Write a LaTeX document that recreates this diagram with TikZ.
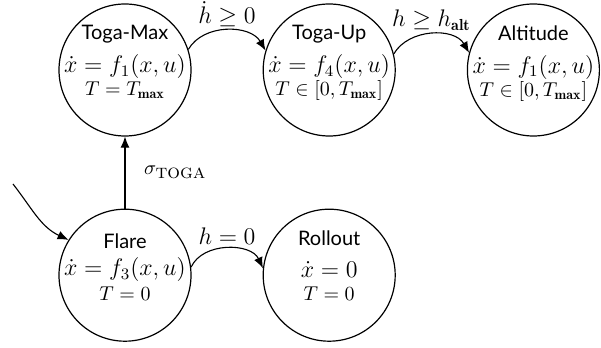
\documentclass[tikz,border=0pt]{standalone}
\usepackage{fontspec}
\newfontfamily\titlefont{Lato}
\usetikzlibrary{positioning,arrows.meta}

\begin{document}
\begin{tikzpicture}[
  state/.style={circle,draw,line width=0.6pt,minimum size=66pt,inner sep=0pt},
  statetext/.style={align=center,inner sep=0pt,anchor=north},
  arr/.style={-{Latex[length=5.5pt,width=4.5pt]},line width=0.55pt},
  guard/.style={inner sep=1.5pt,font=\large},
]
  \useasboundingbox (0,0) rectangle (300.5pt,174pt);
  % states
  \node[state] (togamax) at (62.5pt,139pt) {};
  \node[state,right=35.5pt of togamax] (togaup) {};
  \node[state,right=35.5pt of togaup] (altitude) {};
  \node[state,below=36pt of togamax] (flare) {};
  \node[state,right=35.5pt of flare] (rollout) {};
  % state contents
  \node[statetext] (togamaxtext) at ([yshift=22.5pt]togamax.center)
    {{\titlefont Toga-Max}\\[4.5pt] {\large $\dot x = f_1(x,u)$}\\[-0.5pt] $T = T_{\mathbf{max}}$};
  \node[statetext] (togauptext) at ([yshift=22.5pt]togaup.center)
    {{\titlefont Toga-Up}\\[4.5pt] {\large $\dot x = f_4(x,u)$}\\[-0.5pt] $T \in [0,T_{\mathbf{max}}]$};
  \node[statetext] (altitudetext) at ([yshift=22.5pt]altitude.center)
    {{\titlefont Altitude}\\[4.5pt] {\large $\dot x = f_1(x,u)$}\\[-0.5pt] $T \in [0,T_{\mathbf{max}}]$};
  \node[statetext] (flaretext) at ([yshift=20.7pt]flare.center)
    {{\titlefont Flare}\\[1.5pt] {\large $\dot x = f_3(x,u)$}\\[0.5pt] $T = 0$};
  \node[statetext] (rollouttext) at ([yshift=22.5pt]rollout.center)
    {{\titlefont Rollout}\\[4pt] {\large $\dot x = 0$}\\[-0.5pt] $T = 0$};
  % transitions
  \coordinate (init) at (6.5pt,82pt);
  \draw[arr] (init) to[out=-52,in=155] (flare.148);
  \draw[arr] (flare) -- (togamax)
    node[midway,right=6pt]{$\sigma_{\mbox{\textsc{toga}}}$};
  \draw[arr] (togamax.18) to[out=60,in=120] node[guard,above]{$\dot h \geq 0$} (togaup.163);
  \draw[arr] (togaup.14) to[out=60,in=120] node[guard,above]{$h \geq h_{\mathbf{alt}}$} (altitude.165);
  \draw[arr] (flare.7) to[out=65,in=115] node[guard,above]{$h = 0$} (rollout.174);
\end{tikzpicture}
\end{document}
